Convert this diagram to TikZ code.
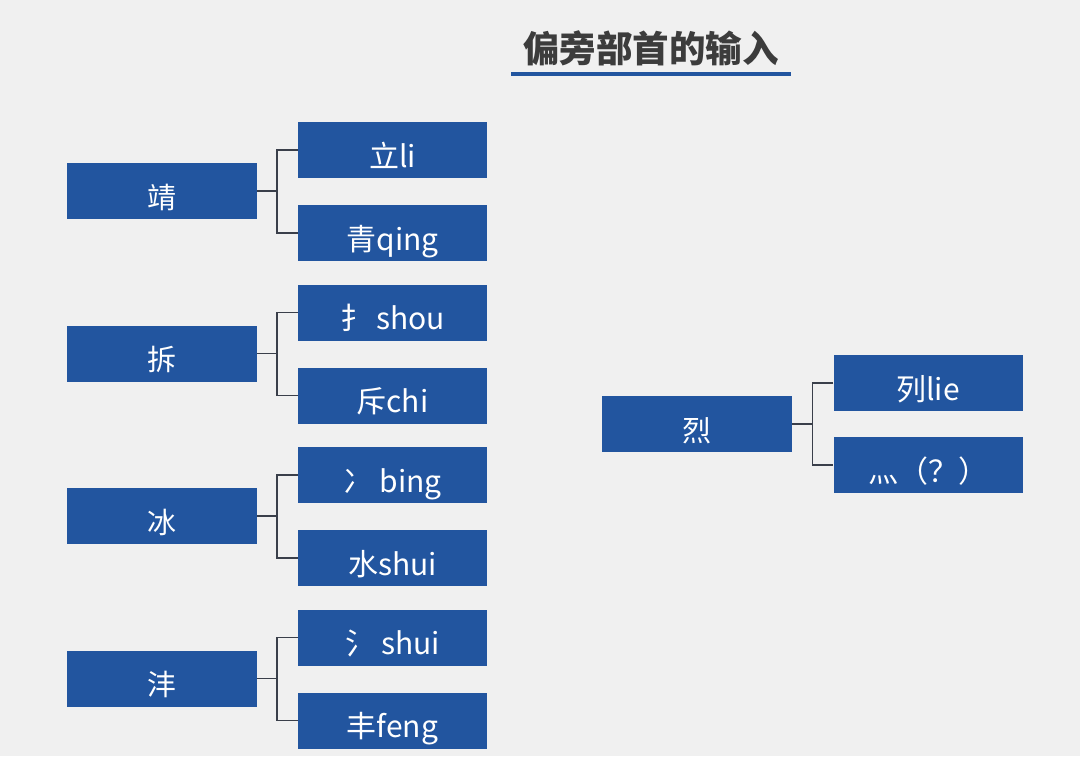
\documentclass[tikz,border=0pt]{standalone}
\usepackage{fontspec}
\newfontfamily\cjk{Noto Sans CJK SC}
\usetikzlibrary{calc}
\definecolor{boxblue}{HTML}{22559F}
\definecolor{bg}{HTML}{F0F0F0}
\definecolor{titlegray}{HTML}{3C3C3C}
\definecolor{linegray}{HTML}{3A3F4A}
\tikzset{
  parentbox/.style={fill=boxblue, text=white, minimum width=190pt, minimum height=56pt, inner sep=0pt, text height=38pt, text depth=4pt, font=\cjk\fontsize{29}{32}\selectfont},
  childbox/.style={fill=boxblue, text=white, minimum width=189pt, minimum height=56pt, inner sep=0pt, text height=38pt, text depth=4pt, font=\cjk\fontsize{30}{34}\selectfont},
  conn/.style={draw=linegray, line width=1.6pt}
}
\begin{document}
\begin{tikzpicture}[x=1pt,y=-1pt]
\fill[bg] (0,0) rectangle (1080,756);
\useasboundingbox (0,0) rectangle (1080,756);
\node[font=\cjk\bfseries\fontsize{36.5}{40}\selectfont, text=titlegray] (title) at (651,48) {偏旁部首的输入};
\draw[draw=boxblue, line width=4pt] (511,74) -- (791,74);

\node[parentbox] (p1) at (162,191) {靖};
\node[childbox] (c11) at (392.5,150) {立li};
\node[childbox] (c12) at (392.5,233) {青qing};

\node[parentbox] (p2) at (162,353.5) {拆};
\node[childbox] (c21) at (392.5,312.5) {扌\hspace{6pt}shou};
\node[childbox] (c22) at (392.5,395.5) {斥chi};

\node[parentbox] (p3) at (162,516) {冰};
\node[childbox] (c31) at (392.5,475) {冫\hspace{6pt}bing};
\node[childbox] (c32) at (392.5,558) {水shui};

\node[parentbox] (p4) at (162,678.5) {沣};
\node[childbox] (c41) at (392.5,637.5) {氵\hspace{6pt}shui};
\node[childbox] (c42) at (392.5,720.5) {丰feng};

\node[parentbox] (p5) at (697,424) {烈};
\node[childbox] (c51) at (928,383) {列lie};
\node[childbox] (c52) at (928,465) {灬（？）};

\foreach \p/\a/\b in {p1/c11/c12, p2/c21/c22, p3/c31/c32, p4/c41/c42, p5/c51/c52}{
  \coordinate (j\p) at ($(\a.west)+(-21,0)$);
  \draw[conn] (\p.east) -- (\p.east -| j\p);
  \draw[conn] (\a.west) -- (j\p) |- (\b.west);
}
\end{tikzpicture}
\end{document}
